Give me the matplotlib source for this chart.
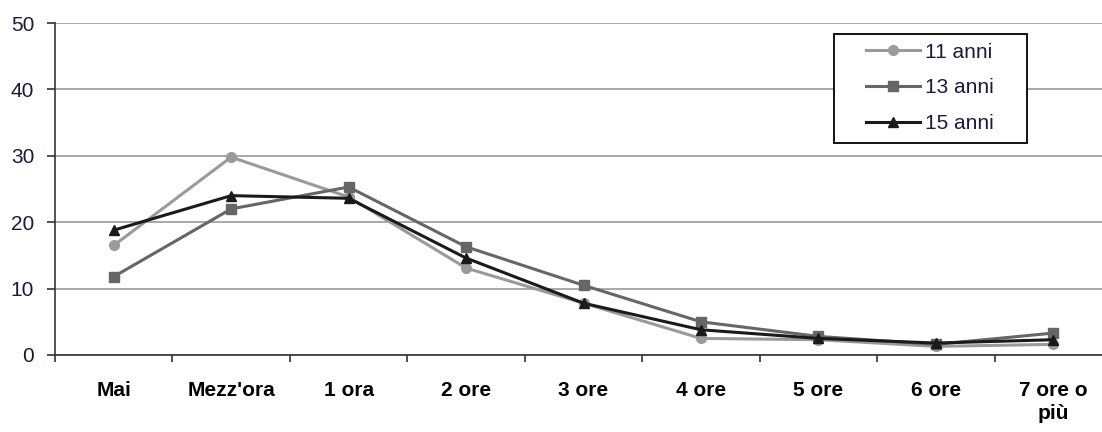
import matplotlib.pyplot as plt
from matplotlib.patches import Rectangle
import numpy as np

plt.rcParams['font.family'] = ['Liberation Sans', 'DejaVu Sans']

categories = ['Mai', "Mezz'ora", '1 ora', '2 ore', '3 ore', '4 ore', '5 ore', '6 ore', '7 ore o\npiù']
anni_11 = [16.5, 29.8, 23.8, 13.1, 7.8, 2.5, 2.3, 1.3, 1.6]
anni_13 = [11.8, 22.0, 25.3, 16.3, 10.5, 5.0, 2.8, 1.6, 3.3]
anni_15 = [18.8, 24.0, 23.6, 14.6, 7.8, 3.8, 2.5, 1.8, 2.3]

W, H = 1102, 432
fig = plt.figure(figsize=(W / 100, H / 100), dpi=100)
# the original chart is cut off on the right, so the axes run past the figure edge
ax = fig.add_axes([55 / W, 77 / H, 1057 / W, 332 / H])

x = np.arange(len(categories))
ax.plot(x, anni_11, color='#9a9a9a', marker='o', markersize=7, lw=2.2, label='11 anni')
ax.plot(x, anni_13, color='#666666', marker='s', markersize=7, lw=2.2, label='13 anni')
ax.plot(x, anni_15, color='#1a1a1a', marker='^', markersize=7, lw=2.2, label='15 anni')

ax.set_xlim(-0.5, len(categories) - 0.5)
ax.set_ylim(0, 50)
ax.set_yticks(range(0, 51, 10))
ax.yaxis.grid(True, color='#999999', lw=1.2)
ax.set_axisbelow(True)

ax.set_xticks(x)
ax.set_xticklabels(categories, fontweight='bold', fontsize=15, linespacing=1.25)
ax.set_xticks(np.arange(-0.5, len(categories), 1), minor=True)
ax.tick_params(axis='x', which='major', length=0, pad=19)
ax.tick_params(axis='x', which='minor', length=5, width=1.2, color='#333333', direction='out')
ax.tick_params(axis='y', length=6, width=1.2, color='#333333', labelsize=15, labelcolor='#1a1a40', pad=9)

for s in ['top', 'right']:
    ax.spines[s].set_visible(False)
for s in ['left', 'bottom']:
    ax.spines[s].set_color('#333333')
    ax.spines[s].set_linewidth(1.2)

# legend without its own frame; box drawn separately to match the wide padding
box = Rectangle((834 / W, 1 - 143 / H), 193 / W, 109 / H, transform=fig.transFigure,
                facecolor='white', edgecolor='black', lw=1.3, zorder=4, clip_on=False)
ax.add_patch(box)
leg = ax.legend(loc='upper left', bbox_to_anchor=(866 / W, 1 - 42.5 / H), bbox_transform=fig.transFigure,
                frameon=False, fontsize=15, handlelength=2.6, borderpad=0.0, borderaxespad=0,
                labelspacing=0.81, handletextpad=0.25)
leg.set_zorder(5)
for t in leg.get_texts():
    t.set_color('#1a1a40')

fig.savefig('out.png', dpi=100)
